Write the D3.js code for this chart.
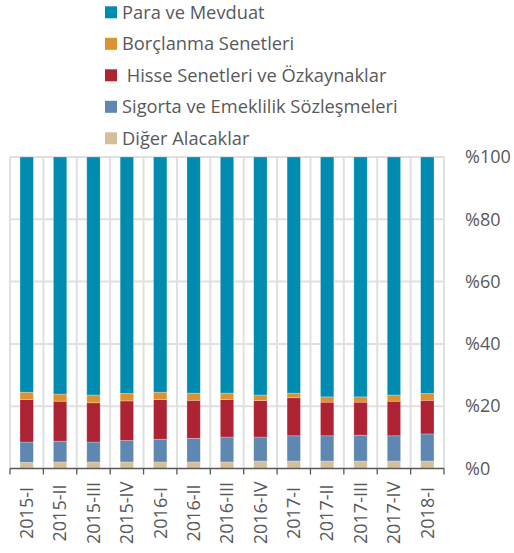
<!DOCTYPE html>
<html lang="tr">
<head>
<meta charset="utf-8">
<script src="https://cdn.jsdelivr.net/npm/d3@7"></script>
<style>
  body { margin: 0; background: #fff; }
  svg text { font-family: "Open Sans", sans-serif; fill: #595959; }
</style>
</head>
<body>
<div id="chart"></div>
<script>
// donemler
const periods = ["2015-I","2015-II","2015-III","2015-IV","2016-I","2016-II","2016-III",
  "2016-IV","2017-I","2017-II","2017-III","2017-IV","2018-I"];

// seriler (%), alttan uste
const diger   = [2.0, 2.1, 2.1, 2.1, 2.1, 2.1, 2.1, 2.4, 2.4, 2.4, 2.4, 2.4, 2.4];
const sigorta = [6.5, 6.7, 6.4, 6.9, 7.3, 7.6, 8.0, 7.7, 8.1, 8.1, 8.3, 8.1, 8.7];
const hisse   = [13.6, 12.8, 12.6, 12.7, 12.7, 12.2, 12.0, 11.7, 12.2, 10.8, 10.6, 11.1, 10.8];
const borc    = [2.4, 2.3, 2.5, 2.4, 2.4, 2.3, 2.1, 1.8, 1.5, 1.7, 1.7, 2.0, 2.2];
const para    = [75.5, 76.1, 76.4, 75.9, 75.5, 75.8, 75.8, 76.4, 75.8, 77.0, 77.0, 76.4, 75.9];

const seriesNames = ["Diğer Alacaklar", "Sigorta ve Emeklilik Sözleşmeleri",
  " Hisse Senetleri ve Özkaynaklar", "Borçlanma Senetleri", "Para ve Mevduat"];
const seriesColors = ["#d5bf9b", "#5e87b1", "#ae2334", "#dd9231", "#008cb0"];
const yTicks = [0, 20, 40, 60, 80, 100];

const width = 514, height = 553;
const plotLeft = 10, plotRight = 444, plotTop = 157, plotBottom = 468.5;

const keys = ["diger", "sigorta", "hisse", "borc", "para"];
const rows = periods.map((p, i) => ({
  period: p, diger: diger[i], sigorta: sigorta[i], hisse: hisse[i], borc: borc[i], para: para[i]
}));
const stacked = d3.stack().keys(keys)(rows);

const svg = d3.select("#chart").append("svg")
  .attr("width", width).attr("height", height);

const x = d3.scaleBand().domain(periods).range([plotLeft, plotRight])
  .paddingInner(0.6).paddingOuter(0.3);
const edge = d3.scaleLinear().domain([0, periods.length]).range([plotLeft, plotRight]);
const y = d3.scaleLinear().domain([0, 100]).range([plotBottom, plotTop]);

// izgara
svg.append("g").selectAll("line").data(yTicks.filter(d => d > 0)).join("line")
  .attr("x1", plotLeft).attr("x2", plotRight)
  .attr("y1", d => y(d)).attr("y2", d => y(d))
  .attr("stroke", "#e0e0e0").attr("stroke-width", 2);
svg.append("g").selectAll("line").data(d3.range(periods.length + 1)).join("line")
  .attr("x1", d => edge(d)).attr("x2", d => edge(d))
  .attr("y1", plotTop).attr("y2", plotBottom)
  .attr("stroke", "#e0e0e0").attr("stroke-width", 2);

// cubuklar
const color = d3.scaleOrdinal().domain(keys).range(seriesColors);
svg.append("g").selectAll("g").data(stacked).join("g")
  .attr("fill", d => color(d.key))
  .selectAll("rect").data(d => d).join("rect")
  .attr("x", d => x(d.data.period))
  .attr("width", x.bandwidth())
  .attr("y", d => y(Math.min(d[1], 100)))
  .attr("height", d => y(d[0]) - y(Math.min(d[1], 100)))
  .attr("stroke", "#ffffff").attr("stroke-opacity", 0.35).attr("stroke-width", 0.7);

// x ekseni
svg.append("line").attr("x1", plotLeft).attr("x2", plotRight)
  .attr("y1", plotBottom).attr("y2", plotBottom)
  .attr("stroke", "#595959").attr("stroke-width", 1.3);
svg.append("g").selectAll("line").data(d3.range(periods.length + 1)).join("line")
  .attr("x1", d => edge(d)).attr("x2", d => edge(d))
  .attr("y1", plotBottom).attr("y2", plotBottom + 6)
  .attr("stroke", "#595959").attr("stroke-width", 1.3);
svg.append("g").selectAll("text").data(periods).join("text")
  .attr("transform", d => `translate(${x(d) + x.bandwidth() / 2},513) rotate(-90)`)
  .attr("text-anchor", "middle").attr("dy", "0.35em")
  .style("font-size", "18px")
  .text(d => d);

// y ekseni
const yAxis = svg.append("g").attr("transform", `translate(${plotRight},0)`)
  .call(d3.axisRight(y).tickValues(yTicks).tickSize(0).tickPadding(21)
    .tickFormat(d => "%" + d));
yAxis.select(".domain").remove();
yAxis.selectAll("text").style("font-size", "18px")
  .style("font-family", "'Open Sans', sans-serif").attr("fill", "#595959");

// lejant
const legendOrder = [4, 3, 2, 1, 0];
const legend = svg.append("g").selectAll("g").data(legendOrder).join("g")
  .attr("transform", (d, i) => `translate(105,${12.3 + i * 31.5})`);
legend.append("rect").attr("x", 0).attr("y", -6).attr("width", 12).attr("height", 12)
  .attr("fill", d => seriesColors[d]);
legend.append("text").attr("x", 17).attr("dy", "0.35em")
  .style("font-size", "18.3px").style("white-space", "pre")
  .text(d => seriesNames[d]);
</script>
</body>
</html>
